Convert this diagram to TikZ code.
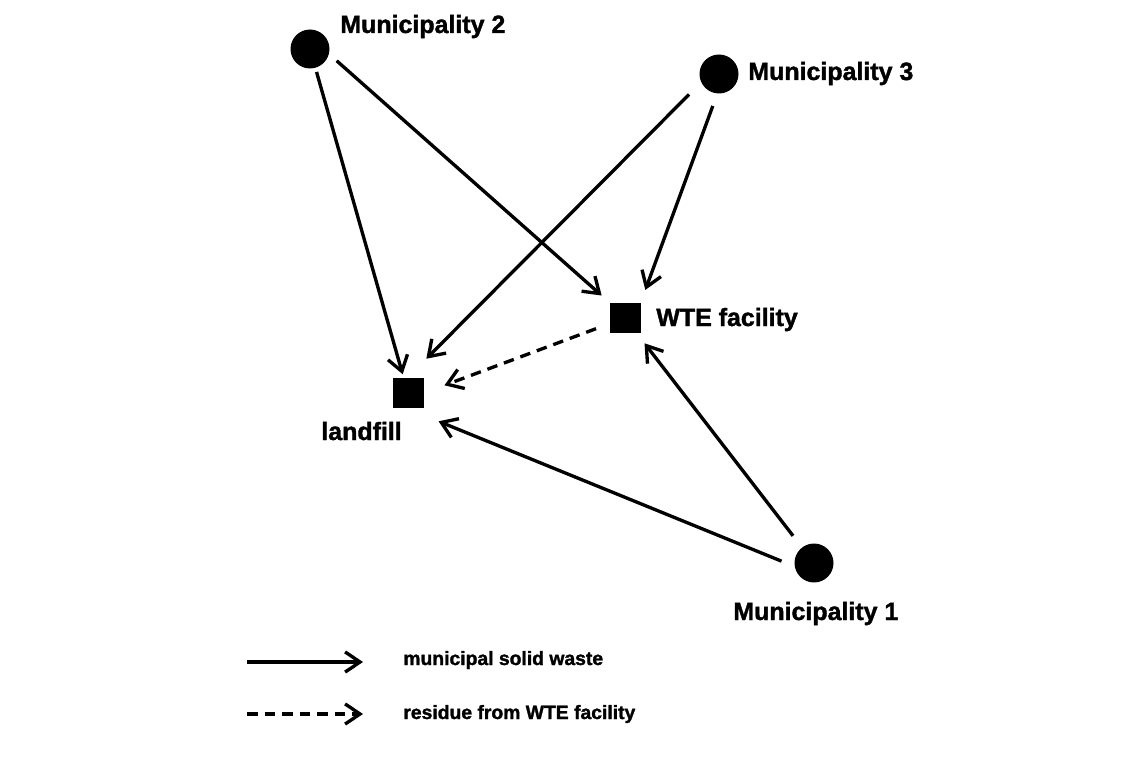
\documentclass[tikz,border=0pt]{standalone}
\usepackage{fontspec}
\setmainfont{Liberation Sans}[BoldFeatures={FakeBold=1.5}]
\usetikzlibrary{arrows.meta}
\tikzset{
	town/.style={draw=none,circle,inner sep=0pt,minimum size=0.78cm,fill=black},
	plant/.style={draw=none,rectangle,inner sep=0pt,minimum size=0.62cm,fill=black},
	lbl/.style={inner sep=0pt,font=\bfseries\fontsize{14.2}{17}\selectfont},
	keylbl/.style={inner sep=0pt,font=\bfseries\fontsize{11}{13}\selectfont},
	flow/.style={-{Straight Barb[length=8.5pt,width=11.5pt]},line width=1.9pt},
	resid/.style={flow,dash pattern=on 6pt off 4pt}
}

\begin{document}
\begin{tikzpicture}
	\pgfmathsetmacro{\ul}{0.02};
	\useasboundingbox (0,0) rectangle (1145*\ul,-772*\ul);
	% municipalities and facilities
	\node[town]  (m2) at (310*\ul,-49*\ul) {};
	\node[town]  (m3) at (719*\ul,-74*\ul) {};
	\node[town]  (m1) at (814*\ul,-563*\ul) {};
	\node[plant] (wte) at (625*\ul,-318*\ul) {};
	\node[plant] (lf) at (408*\ul,-393*\ul) {};
	\node[lbl,anchor=base west] (m2lbl) at (340*\ul,-33*\ul) {Municipality 2};
	\node[lbl,anchor=base west] (m3lbl) at (748*\ul,-80*\ul) {Municipality 3};
	\node[lbl,anchor=base west] (m1lbl) at (733*\ul,-620*\ul) {Municipality 1};
	\node[lbl,anchor=base west] (wtelbl) at (656*\ul,-326*\ul) {WTE facility};
	\node[lbl,anchor=base west] (lflbl) at (321*\ul,-440*\ul) {landfill};
	% waste flows
	\draw[flow,shorten <=0.08cm,shorten >=0.06cm] (m2) -- (lf);
	\draw[flow,shorten <=0.2cm,shorten >=0.2cm] (m2.-15) -- (wte.north west);
	\draw[flow,shorten <=0.34cm,shorten >=0.52cm] (m3.205) -- (lf.north);
	\draw[flow,shorten <=0.26cm,shorten >=0.26cm] (m3.-95) -- (wte.north east);
	\draw[resid,shorten <=0.28cm,shorten >=0.44cm] (wte.200) -- (lf.east);
	\draw[flow,shorten <=0.28cm,shorten >=0.66cm] (m1.190) -- (lf.south);
	\draw[flow,shorten <=0.29cm,shorten >=0.24cm] (m1) -- (wte);
	% legend
	\coordinate (k1a) at (247*\ul,-662*\ul);
	\coordinate (k1b) at (363*\ul,-662*\ul);
	\coordinate (k2a) at (247*\ul,-714*\ul);
	\coordinate (k2b) at (363*\ul,-714*\ul);
	\draw[flow] (k1a) -- (k1b);
	\draw[resid] (k2a) -- (k2b);
	\node[keylbl,anchor=base west] (k1lbl) at (403*\ul,-665*\ul) {municipal solid waste};
	\node[keylbl,anchor=base west] (k2lbl) at (403*\ul,-719*\ul) {residue from WTE facility};
\end{tikzpicture}
\end{document}
